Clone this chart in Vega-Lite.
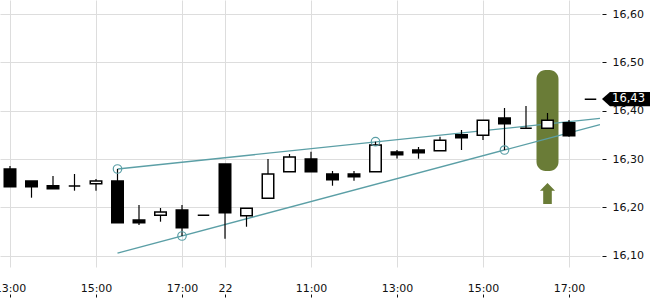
{
  "$schema": "https://vega.github.io/schema/vega-lite/v6.json",
  "width": 600,
  "height": 267,
  "autosize": "none",
  "padding": {"left": 0, "top": 0, "right": 50, "bottom": 33},
  "background": "white",
  "config": {
    "view": {"stroke": null},
    "font": "DejaVu Sans",
    "axis": {"labelFont": "DejaVu Sans", "labelFontSize": 11, "labelColor": "#111", "gridColor": "#dddddd", "gridWidth": 1, "tickColor": "#111", "domain": false}
  },
  "datasets": {
    "candles": [
      {"i": 0, "o": 16.2793, "h": 16.2855, "l": 16.2427, "c": 16.2427},
      {"i": 1, "o": 16.2545, "h": 16.2545, "l": 16.2199, "c": 16.2427},
      {"i": 2, "o": 16.2447, "h": 16.2648, "l": 16.2385, "c": 16.2385},
      {"i": 3, "o": 16.2441, "h": 16.2689, "l": 16.2344, "c": 16.2441},
      {"i": 4, "o": 16.2489, "h": 16.2586, "l": 16.2344, "c": 16.2545},
      {"i": 5, "o": 16.2545, "h": 16.2793, "l": 16.1681, "c": 16.1681},
      {"i": 6, "o": 16.1737, "h": 16.2048, "l": 16.1634, "c": 16.1681},
      {"i": 7, "o": 16.1834, "h": 16.1986, "l": 16.1702, "c": 16.1903},
      {"i": 8, "o": 16.1944, "h": 16.2048, "l": 16.1406, "c": 16.1578},
      {"i": 9, "o": 16.1834, "h": 16.1834, "l": 16.1834, "c": 16.1834},
      {"i": 10, "o": 16.2896, "h": 16.2896, "l": 16.1350, "c": 16.1888},
      {"i": 11, "o": 16.1826, "h": 16.1979, "l": 16.1598, "c": 16.1979},
      {"i": 12, "o": 16.2186, "h": 16.3000, "l": 16.2186, "c": 16.2689},
      {"i": 13, "o": 16.2737, "h": 16.3104, "l": 16.2737, "c": 16.3041},
      {"i": 14, "o": 16.3000, "h": 16.3151, "l": 16.2737, "c": 16.2737},
      {"i": 15, "o": 16.2689, "h": 16.2752, "l": 16.2447, "c": 16.2571},
      {"i": 16, "o": 16.2689, "h": 16.2752, "l": 16.2551, "c": 16.2634},
      {"i": 17, "o": 16.2737, "h": 16.3358, "l": 16.2737, "c": 16.3290},
      {"i": 18, "o": 16.3145, "h": 16.3186, "l": 16.3010, "c": 16.3089},
      {"i": 19, "o": 16.3186, "h": 16.3248, "l": 16.3006, "c": 16.3130},
      {"i": 20, "o": 16.3172, "h": 16.3462, "l": 16.3172, "c": 16.3387},
      {"i": 21, "o": 16.3503, "h": 16.3600, "l": 16.3186, "c": 16.3441},
      {"i": 22, "o": 16.3491, "h": 16.3801, "l": 16.3393, "c": 16.3801},
      {"i": 23, "o": 16.3849, "h": 16.4056, "l": 16.3186, "c": 16.3731},
      {"i": 24, "o": 16.3636, "h": 16.4097, "l": 16.3636, "c": 16.3636},
      {"i": 25, "o": 16.3636, "h": 16.3952, "l": 16.3636, "c": 16.3801},
      {"i": 26, "o": 16.3752, "h": 16.3807, "l": 16.3462, "c": 16.3482},
      {"i": 27, "o": 16.4236, "h": 16.4236, "l": 16.4236, "c": 16.4236}
    ],
    "trend": [
      {"line": "upper", "i": 5, "v": 16.2793},
      {"line": "upper", "i": 27.44, "v": 16.3840},
      {"line": "lower", "i": 5, "v": 16.1050},
      {"line": "lower", "i": 27.44, "v": 16.3713}
    ],
    "pivots": [
      {"i": 5, "v": 16.2793},
      {"i": 8, "v": 16.1406},
      {"i": 17, "v": 16.3358},
      {"i": 23, "v": 16.3186}
    ],
    "signal": [{"i": 25, "top": 16.4843, "bottom": 16.2752, "arrow": 16.2286}],
    "last": [{"i": 28.65, "ti": 28.77, "v": 16.424, "label": "16,43"}]
  },
  "layer": [
    {
      "data": {"name": "candles"},
      "mark": {"type": "rule", "opacity": 0},
      "encoding": {
        "x": {"field": "i", "type": "quantitative", "scale": {"domain": [-0.4651, 27.4419], "nice": false, "zero": false, "padding": 0},
          "axis": {"values": [0, 4, 8, 10, 14, 18, 22, 26], "title": null, "grid": true, "offset": 27, "tickSize": 3, "labelPadding": -15, "labelFlush": false, "labelOverlap": false, "labelBound": false,
            "labelExpr": "datum.value==0?'13:00':datum.value==4?'15:00':datum.value==8?'17:00':datum.value==10?'22':datum.value==14?'11:00':datum.value==18?'13:00':datum.value==22?'15:00':'17:00'"}},
        "y": {"field": "o", "type": "quantitative", "scale": {"domain": [16.0764, 16.6292], "nice": false, "zero": false},
          "axis": {"orient": "right", "values": [16.1, 16.2, 16.3, 16.4, 16.5, 16.6], "title": null, "grid": true, "offset": 2, "tickSize": 4, "labelPadding": 6, "labelFlush": false,
            "labelExpr": "replace(format(datum.value, '.2f'), '.', ',')"}}
      }
    },
    {
      "data": {"name": "signal"},
      "mark": {"type": "bar", "size": 22, "cornerRadius": 9, "color": "#6a7c37"},
      "encoding": {
        "x": {"field": "i", "type": "quantitative"},
        "y": {"field": "top", "type": "quantitative"},
        "y2": {"field": "bottom"}
      }
    },
    {
      "data": {"name": "signal"},
      "mark": {"type": "point", "filled": true, "color": "#6a7c37", "opacity": 1, "size": 441,
        "shape": "M0,-1 L0.72,-0.25 L0.41,-0.25 L0.41,1 L-0.41,1 L-0.41,-0.25 L-0.72,-0.25 Z"},
      "encoding": {
        "x": {"field": "i", "type": "quantitative"},
        "y": {"field": "arrow", "type": "quantitative"}
      }
    },
    {
      "data": {"name": "trend"},
      "mark": {"type": "line", "color": "#5b9fa6", "strokeWidth": 1.3},
      "encoding": {
        "x": {"field": "i", "type": "quantitative"},
        "y": {"field": "v", "type": "quantitative"},
        "detail": {"field": "line"}
      }
    },
    {
      "data": {"name": "candles"},
      "mark": {"type": "rule", "color": "black", "strokeWidth": 1.2},
      "encoding": {
        "x": {"field": "i", "type": "quantitative"},
        "y": {"field": "h", "type": "quantitative"},
        "y2": {"field": "l"}
      }
    },
    {
      "data": {"name": "candles"},
      "mark": {"type": "bar", "size": 11.5, "stroke": "black", "strokeWidth": 1.5},
      "encoding": {
        "x": {"field": "i", "type": "quantitative"},
        "y": {"field": "o", "type": "quantitative"},
        "y2": {"field": "c"},
        "fill": {"condition": {"test": "datum.c < datum.o", "value": "black"}, "value": "white"}
      }
    },
    {
      "data": {"name": "pivots"},
      "mark": {"type": "point", "shape": "circle", "filled": false, "color": "#5b9fa6", "strokeWidth": 1.2, "size": 72, "opacity": 1},
      "encoding": {
        "x": {"field": "i", "type": "quantitative"},
        "y": {"field": "v", "type": "quantitative"}
      }
    },
    {
      "data": {"name": "last"},
      "mark": {"type": "point", "filled": true, "color": "black", "opacity": 1, "size": 2304,
        "shape": "M-1,0 L-0.667,-0.3 L1,-0.3 L1,0.3 L-0.667,0.3 Z"},
      "encoding": {
        "x": {"field": "i", "type": "quantitative"},
        "y": {"field": "v", "type": "quantitative"}
      }
    },
    {
      "data": {"name": "last"},
      "mark": {"type": "text", "color": "white", "font": "DejaVu Sans", "fontSize": 11.5, "align": "center", "baseline": "middle"},
      "encoding": {
        "x": {"field": "ti", "type": "quantitative"},
        "y": {"field": "v", "type": "quantitative"},
        "text": {"field": "label"}
      }
    }
  ]
}
